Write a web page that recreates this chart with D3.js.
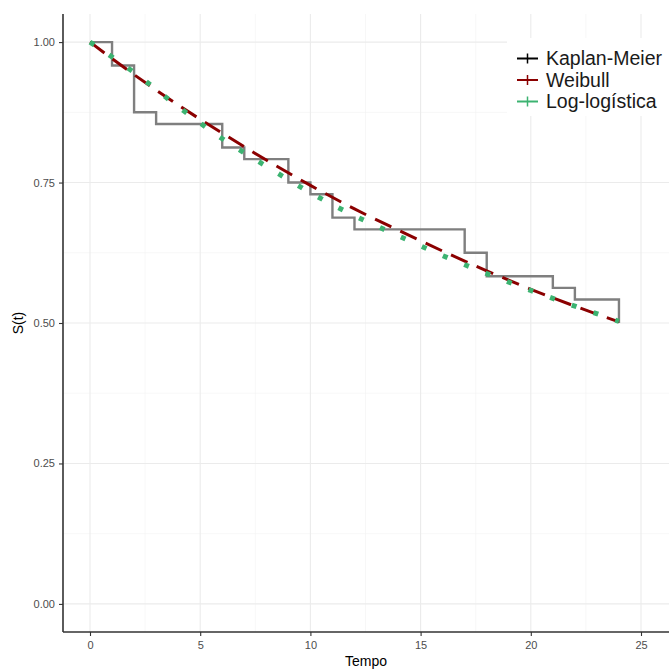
<!DOCTYPE html>
<html>
<head>
<meta charset="utf-8">
<script src="https://cdn.jsdelivr.net/npm/d3@7/dist/d3.min.js"></script>
<style>
  body { margin: 0; background: #fff; }
  text { font-family: "Liberation Sans", Arial, sans-serif; }
</style>
</head>
<body>
<svg width="669" height="671"></svg>
<script>
// Kaplan-Meier step estimate
var kmTime = [0, 1, 2, 3, 6, 7, 9, 10, 11, 12, 17, 18, 21, 22, 24];
var kmSurv = [1, 0.9583, 0.875, 0.8542, 0.8125, 0.7917, 0.75, 0.7292, 0.6875, 0.6667, 0.625, 0.5833, 0.5625, 0.5417, 0.5];

// fitted curves
var fitTime = [0, 2, 4, 6, 8, 10, 12, 14, 16, 18, 20, 22, 24];
var weibullSurv = [1, 0.942, 0.888, 0.838, 0.790, 0.745, 0.703, 0.665, 0.628, 0.593, 0.560, 0.530, 0.502];
var loglogSurv = [1, 0.946, 0.885, 0.828, 0.779, 0.732, 0.691, 0.655, 0.620, 0.588, 0.558, 0.530, 0.503];

var xTicks = [0, 5, 10, 15, 20, 25];
var yTicks = [0, 0.25, 0.5, 0.75, 1];
var legendLabels = ["Kaplan-Meier", "Weibull", "Log-logística"];
var colors = ["#000000", "#8B0000", "#3CB371"];

var svg = d3.select("svg");
// panel edges (window.top is read-only, so use other names)
var pLeft = 63, pRight = 669, pTop = 14, pBottom = 632;

var x = d3.scaleLinear().domain([0, 25]).range([90, 641]);
var y = d3.scaleLinear().domain([-0.05, 1.05]).range([pBottom, pTop]);

var g = svg.append("g");

// grid
var xMinor = d3.range(2.5, 26, 5);
var yMinor = d3.range(0.125, 1, 0.25);
g.selectAll(".vminor").data(xMinor).enter().append("line")
  .attr("x1", d => x(d)).attr("x2", d => x(d)).attr("y1", pTop).attr("y2", pBottom)
  .attr("stroke", "#f2f2f2").attr("stroke-width", 0.6);
g.selectAll(".hminor").data(yMinor).enter().append("line")
  .attr("x1", pLeft).attr("x2", pRight).attr("y1", d => y(d)).attr("y2", d => y(d))
  .attr("stroke", "#f2f2f2").attr("stroke-width", 0.6);
g.selectAll(".vmajor").data(xTicks).enter().append("line")
  .attr("x1", d => x(d)).attr("x2", d => x(d)).attr("y1", pTop).attr("y2", pBottom)
  .attr("stroke", "#ebebeb").attr("stroke-width", 1.1);
g.selectAll(".hmajor").data(yTicks).enter().append("line")
  .attr("x1", pLeft).attr("x2", pRight).attr("y1", d => y(d)).attr("y2", d => y(d))
  .attr("stroke", "#ebebeb").attr("stroke-width", 1.1);

// curves
var km = kmTime.map((t, i) => [t, kmSurv[i]]);
g.append("path")
  .attr("d", d3.line().x(d => x(d[0])).y(d => y(d[1])).curve(d3.curveStepAfter)(km))
  .attr("fill", "none").attr("stroke", "#7f7f7f").attr("stroke-width", 2.4);

var smooth = d3.line().x(d => x(d[0])).y(d => y(d[1])).curve(d3.curveMonotoneX);
g.append("path")
  .attr("d", smooth(fitTime.map((t, i) => [t, weibullSurv[i]])))
  .attr("fill", "none").attr("stroke", colors[1]).attr("stroke-width", 3)
  .attr("stroke-dasharray", "18,10");
g.append("path")
  .attr("d", smooth(fitTime.map((t, i) => [t, loglogSurv[i]])))
  .attr("fill", "none").attr("stroke", colors[2]).attr("stroke-width", 5)
  .attr("stroke-dasharray", "5,18");

// axes
var xAxis = svg.append("g").attr("transform", "translate(0," + pBottom + ")")
  .call(d3.axisBottom(x).tickValues(xTicks).tickSize(4).tickPadding(5));
xAxis.select(".domain").attr("d", "M" + pLeft + ",0H" + pRight);
var yAxis = svg.append("g").attr("transform", "translate(" + pLeft + ",0)")
  .call(d3.axisLeft(y).tickValues(yTicks).tickFormat(d3.format(".2f")).tickSize(4).tickPadding(4));
yAxis.select(".domain").attr("d", "M0," + pTop + "V" + pBottom);
svg.selectAll(".domain").attr("stroke", "#333").attr("stroke-width", 1.6);
svg.selectAll(".tick line").attr("stroke", "#333").attr("stroke-width", 1.1);
svg.selectAll(".tick text").attr("fill", "#4d4d4d").style("font-size", "11px")
  .style("font-family", "'Liberation Sans', Arial, sans-serif");

svg.append("text").attr("x", (pLeft + pRight) / 2).attr("y", 666)
  .attr("text-anchor", "middle").style("font-size", "14px").text("Tempo");
svg.append("text").attr("transform", "translate(23," + y(0.5) + ") rotate(-90)")
  .attr("text-anchor", "middle").style("font-size", "14px").text("S(t)");

// legend
var lg = svg.append("g");
lg.append("rect").attr("x", 507).attr("y", 38).attr("width", 162).attr("height", 78).attr("fill", "#fff");
var rows = lg.selectAll(".row").data(legendLabels).enter().append("g")
  .attr("transform", (d, i) => "translate(0," + (58.5 + i * 21.5) + ")");
rows.append("line").attr("x1", 517).attr("x2", 538).attr("y1", 0).attr("y2", 0)
  .attr("stroke", (d, i) => colors[i]).attr("stroke-width", 2);
rows.append("line").attr("x1", 527.5).attr("x2", 527.5).attr("y1", -5).attr("y2", 5)
  .attr("stroke", (d, i) => colors[i]).attr("stroke-width", 1.5);
rows.append("text").attr("x", 546).attr("y", 0).attr("dy", "0.35em")
  .style("font-size", "19.5px").attr("fill", "#1a1a1a").text(d => d);
</script>
</body>
</html>
